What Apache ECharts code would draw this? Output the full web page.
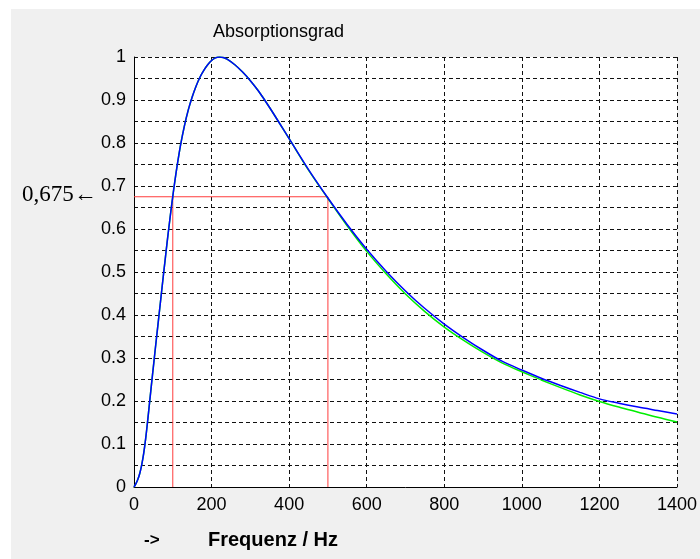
<!DOCTYPE html>
<html>
<head>
<meta charset="utf-8">
<script src="https://cdn.jsdelivr.net/npm/echarts@6/dist/echarts.min.js"></script>
<style>
html,body{margin:0;padding:0;background:#fff;}
#bg{position:absolute;left:11px;top:9px;width:689px;height:550px;background:#f0f0f0;}
#chart{position:absolute;left:0;top:0;width:700px;height:559px;}
</style>
</head>
<body>
<div id="bg"></div>
<div id="chart"></div>
<script>
// Frequency (Hz) / absorption coefficient
const freqBlue = [0,5,10,15,20,25,30,35,40,45,50,55,60,65,70,75,80,85,90,95,100,105,110,120,130,140,150,160,170,180,190,200,210,220,230,240,260,280,300,320,350,400,450,500,550,600,650,700,750,800,850,900,950,1000,1050,1100,1150,1200,1250,1300,1350,1400];
const alphaBlue = [0,0.008,0.018,0.032,0.052,0.078,0.112,0.152,0.195,0.238,0.28,0.322,0.363,0.404,0.445,0.486,0.526,0.566,0.604,0.641,0.676,0.709,0.74,0.795,0.84,0.877,0.907,0.932,0.953,0.969,0.982,0.992,0.998,1.0,0.999,0.995,0.982,0.965,0.945,0.922,0.882,0.81,0.738,0.672,0.61,0.553,0.502,0.456,0.415,0.379,0.347,0.318,0.292,0.272,0.253,0.236,0.22,0.205,0.195,0.186,0.178,0.17];
const freqGreen = [0,5,10,15,20,25,30,35,40,45,50,55,60,65,70,75,80,85,90,95,100,105,110,120,130,140,150,160,170,180,190,200,210,220,230,240,260,280,300,320,350,400,450,500,550,600,650,700,750,800,850,900,950,1000,1050,1100,1150,1200,1250,1300,1350,1400];
const alphaGreen = [0,0.008,0.018,0.032,0.052,0.078,0.112,0.152,0.195,0.238,0.28,0.322,0.363,0.404,0.445,0.486,0.526,0.566,0.604,0.641,0.676,0.709,0.74,0.795,0.84,0.877,0.907,0.932,0.953,0.969,0.982,0.992,0.998,1.0,0.999,0.995,0.982,0.965,0.945,0.922,0.882,0.81,0.737,0.671,0.607,0.548,0.496,0.449,0.408,0.372,0.341,0.313,0.288,0.268,0.249,0.231,0.214,0.199,0.186,0.174,0.162,0.151];
// Red guide lines
const guideFreqLow = 100;
const guideFreqHigh = 500;
const guideAlpha = 0.675;
// Axis ticks
const xTicks = [0,200,400,600,800,1000,1200,1400];
const yTickStep = 0.1;

const zip = (xs, ys) => xs.map((x, i) => [x, ys[i]]);
const chart = echarts.init(document.getElementById('chart'));
const dash = {color:'#111', width:1, type:[4,3]};
const redStyle = {color:'#ff3c3c', width:1};
chart.setOption({
  animation:false,
  backgroundColor:'transparent',
  grid:{left:134, right:22, top:57, bottom:72, show:true, backgroundColor:'#ffffff', borderWidth:0},
  xAxis:{
    type:'value', min:xTicks[0], max:xTicks[xTicks.length-1], interval:xTicks[1]-xTicks[0],
    axisLine:{show:true, onZero:false, lineStyle:{color:'#000', width:1}},
    axisTick:{show:false},
    splitLine:{show:true, lineStyle:dash},
    axisLabel:{color:'#000', fontSize:18, fontFamily:'Liberation Sans, Arial, sans-serif', margin:9,
      formatter:function(v){ return String(v); }}
  },
  yAxis:{
    type:'value', min:0, max:1, interval:yTickStep/2,
    axisLine:{show:true, onZero:false, lineStyle:{color:'#000', width:1}},
    axisTick:{show:false},
    splitLine:{show:true, lineStyle:dash},
    axisLabel:{color:'#000', fontSize:18, fontFamily:'Liberation Sans, Arial, sans-serif', margin:8,
      formatter:function(v){
        const k = v / yTickStep;
        if (Math.abs(k - Math.round(k)) > 1e-6) return '';
        const r = Math.round(k) * yTickStep;
        if (Math.abs(r) < 1e-9) return '0';
        if (Math.abs(r - 1) < 1e-9) return '1';
        return r.toFixed(1);
      }}
  },
  series:[
    {type:'line', data:[[guideFreqLow,0],[guideFreqLow,guideAlpha]], showSymbol:false, lineStyle:redStyle, z:3},
    {type:'line', data:[[0,guideAlpha],[guideFreqHigh,guideAlpha],[guideFreqHigh,0]], showSymbol:false, lineStyle:redStyle, z:3},
    {type:'line', data:zip(freqGreen, alphaGreen), showSymbol:false, smooth:0.3, lineStyle:{color:'#00ee00', width:1.5}, z:4},
    {type:'line', data:zip(freqBlue, alphaBlue), showSymbol:false, smooth:0.3, lineStyle:{color:'#0000ff', width:1.5}, z:5}
  ],
  graphic:[
    {type:'text', left:213, top:23, style:{text:'Absorptionsgrad', fill:'#000', font:'18px "Liberation Sans", Arial, sans-serif'}},
    {type:'text', left:144, top:532, style:{text:'->', fill:'#000', font:'bold 17px "Liberation Sans", Arial, sans-serif'}},
    {type:'text', left:208, top:530, style:{text:'Frequenz / Hz', fill:'#000', font:'bold 20px "Liberation Sans", Arial, sans-serif'}},
    {type:'text', left:22, top:183, style:{text:'0,675\u2190', fill:'#000', font:'23px "Liberation Serif", "Times New Roman", serif'}}
  ]
});
</script>
</body>
</html>
